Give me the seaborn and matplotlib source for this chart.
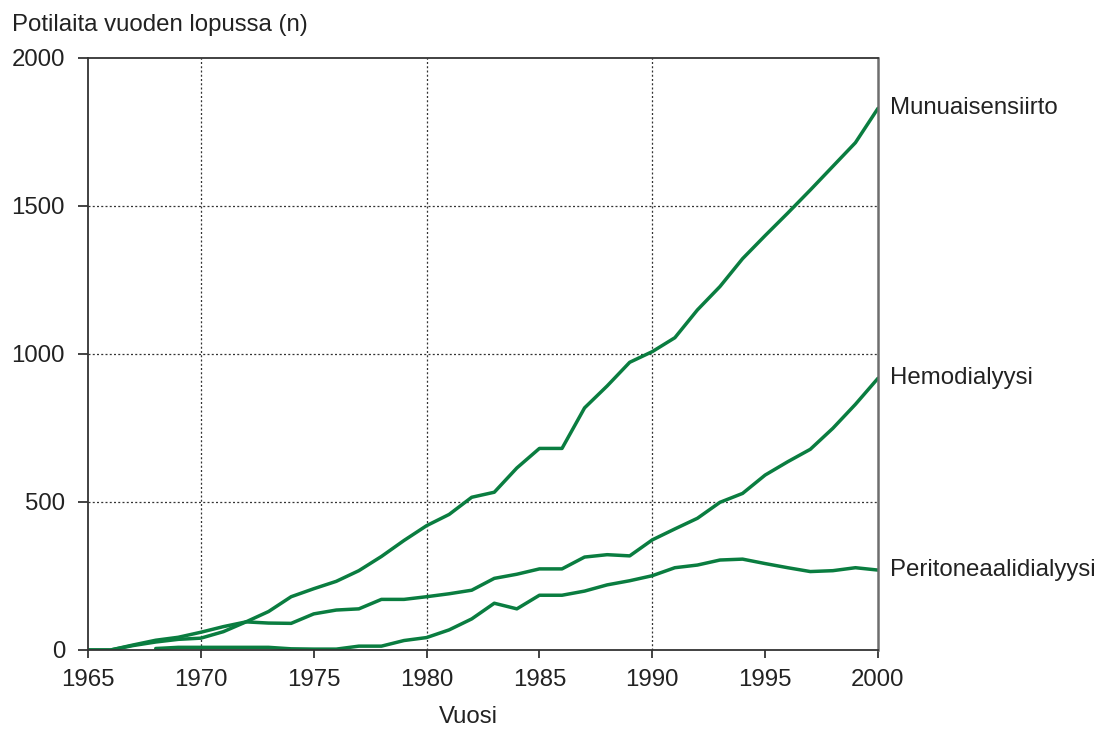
import pandas as pd
import matplotlib

matplotlib.use("Agg")
import matplotlib.pyplot as plt
import seaborn as sns

# --- data ---
years = list(range(1965, 2001))
transplant = [0, 0, 15, 27, 36, 40, 62, 95, 130, 180, 207, 232, 268, 316, 370,
              420, 458, 516, 533, 615, 681, 681, 818, 892, 972, 1008, 1055, 1149,
              1228, 1322, 1400, 1476, 1554, 1634, 1714, 1830]
hemodialysis = [0, 0, 17, 33, 43, 60, 79, 95, 91, 90, 122, 135, 139, 171, 171,
                180, 190, 202, 242, 256, 274, 274, 314, 322, 318, 372, 409, 445,
                499, 529, 591, 636, 678, 749, 830, 918]
pd_years = list(range(1968, 2001))
peritoneal = [5, 9, 9, 9, 9, 9, 4, 3, 3, 13, 13, 32, 42, 68, 105, 158, 139, 185,
              185, 199, 220, 234, 251, 278, 287, 304, 307, 292, 278, 265, 268,
              278, 270]
series_names = ["Munuaisensiirto", "Hemodialyysi", "Peritoneaalidialyysi"]

df = pd.concat([
    pd.DataFrame({"vuosi": years, "n": transplant, "hoito": series_names[0]}),
    pd.DataFrame({"vuosi": years, "n": hemodialysis, "hoito": series_names[1]}),
    pd.DataFrame({"vuosi": pd_years, "n": peritoneal, "hoito": series_names[2]}),
])

sns.set_theme(style="white")
plt.rcParams["font.family"] = ["Liberation Sans", "DejaVu Sans"]
green = "#0a7d40"
text_col = "#222222"
fs = 17.3

fig = plt.figure(figsize=(10.97, 7.29), dpi=100)
ax = fig.add_axes([88 / 1097, 1 - 650 / 729, 790 / 1097, 592 / 729])

sns.lineplot(data=df, x="vuosi", y="n", hue="hoito", palette=[green] * 3,
             linewidth=2.5, legend=False, ax=ax)

ax.set_xlim(1965, 2000)
ax.set_ylim(0, 2000)
ax.set_xticks(range(1965, 2001, 5))
ax.set_yticks(range(0, 2001, 500))
ax.tick_params(axis="both", labelsize=fs, colors=text_col, labelcolor=text_col)
ax.tick_params(axis="y", direction="out", length=7.5, width=1.2, pad=9, left=True)
ax.tick_params(axis="x", direction="out", length=5.5, width=1.2, pad=8, bottom=True)

# dotted grid only at decades and every 500
for x in [1970, 1980, 1990]:
    ax.axvline(x, color="#333333", linestyle=(0, (1.6, 1.8)), linewidth=0.9, zorder=0)
for y in [500, 1000, 1500]:
    ax.axhline(y, color="#333333", linestyle=(0, (1.6, 1.8)), linewidth=0.9, zorder=0)

for side in ["left", "bottom", "top"]:
    ax.spines[side].set_color("#333333")
    ax.spines[side].set_linewidth(1.3)
ax.spines["right"].set_color("#6e6e6e")
ax.spines["right"].set_linewidth(1.8)

ax.set_xlabel("")
ax.set_ylabel("")
fig.text(12 / 1097, 1 - 25 / 729, "Potilaita vuoden lopussa (n)", fontsize=fs,
         color=text_col, va="center", ha="left")
fig.text(468 / 1097, 1 - 717 / 729, "Vuosi", fontsize=fs, color=text_col,
         va="center", ha="center")

# labels at the end of each line
ends = [transplant[-1], hemodialysis[-1], peritoneal[-1]]
for name, last in zip(series_names, ends):
    ax.annotate(name, xy=(2000, last), xytext=(9, 0), textcoords="offset points",
                fontsize=fs, color=text_col, va="center", ha="left",
                annotation_clip=False)

fig.savefig("out.png", dpi=100)
